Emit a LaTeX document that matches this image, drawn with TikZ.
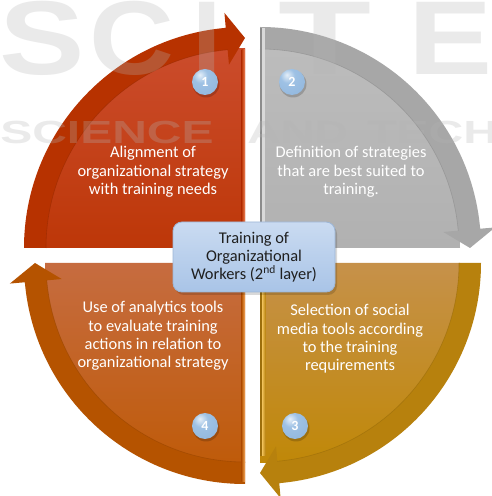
\documentclass[tikz,border=0pt]{standalone}
\usepackage{fontspec}
\setmainfont{Carlito}
\newfontfamily\wmfont{Liberation Sans}
\usetikzlibrary{calc}
\definecolor{qonetop}{HTML}{CB4C2C}
\definecolor{qonebot}{HTML}{BD3708}
\definecolor{qoneband}{HTML}{B73200}
\definecolor{qonehi}{HTML}{EE8258}
\definecolor{qtwotop}{HTML}{BCBCBC}
\definecolor{qtwobot}{HTML}{B1B1B1}
\definecolor{qtwoband}{HTML}{A7A7A7}
\definecolor{qtwohi}{HTML}{D9D9D9}
\definecolor{qtwodark}{HTML}{8C8C8C}
\definecolor{qthrtop}{HTML}{C6914A}
\definecolor{qthrbot}{HTML}{C08808}
\definecolor{qthrband}{HTML}{B7810D}
\definecolor{qthrhi}{HTML}{F2C35C}
\definecolor{qfoutop}{HTML}{C66C40}
\definecolor{qfoubot}{HTML}{BF5B0A}
\definecolor{qfouband}{HTML}{B55300}
\definecolor{qfouhi}{HTML}{F6A95E}
\definecolor{ballhi}{HTML}{E4EEF8}
\definecolor{ballmid}{HTML}{9EC1E4}
\definecolor{balledge}{HTML}{6391C6}
\definecolor{boxtop}{HTML}{CADBF1}
\definecolor{boxbot}{HTML}{A9C4E7}
\definecolor{boxline}{HTML}{9DB6D6}
\definecolor{wmgray}{HTML}{B4B4B4}
\pgfdeclareradialshading{glossball}{\pgfpoint{-10bp}{14bp}}{color(0bp)=(ballhi); color(14bp)=(ballmid); color(40bp)=(ballmid!80!balledge); color(62bp)=(balledge); color(100bp)=(balledge)}
\begin{document}
\begin{tikzpicture}[x=1pt,y=1pt,
  qtext/.style={text=white, align=center, font=\fontsize{16.4}{18.3}\selectfont},
  numball/.style={circle, minimum size=26pt, inner sep=0pt, shading=glossball, text=white, font=\bfseries\fontsize{14}{14}\selectfont},
  wm/.style={text=wmgray, opacity=0.28, font=\wmfont\bfseries, inner sep=0pt}]
\useasboundingbox (0,0) rectangle (492,496);
\fill[white] (0,0) rectangle (492,496);
\coordinate (c1) at (245,248);
\coordinate (c2) at (260,248);
\coordinate (c3) at (260,233);
\coordinate (c4) at (245,233);
% Quadrant 1
\shade[top color=qonetop, bottom color=qonebot] (c1) -- ($(c1)+(180:200)$) arc[start angle=180,end angle=90,radius=200] -- cycle;
\fill[qoneband] ($(c1)+(180:199)$) -- ($(c1)+(180:221)$) arc[start angle=180,end angle=95,radius=221] -- ($(c1)+(95:236)$) -- ($(c1)+(90:210)$) -- ($(c1)+(95:184)$) -- ($(c1)+(95:199)$) arc[start angle=95,end angle=180,radius=199] -- cycle;
\draw[qoneband!80!black, opacity=0.5, line width=0.6pt] ($(c1)+(180:199)$) arc[start angle=180,end angle=95,radius=199];
\shade[left color=qoneband, right color=qonehi] (241.5,248) rectangle (245,446);
% Quadrant 2
\shade[top color=qtwotop, bottom color=qtwobot] (c2) -- ($(c2)+(90:200)$) arc[start angle=90,end angle=0,radius=200] -- cycle;
\fill[qtwoband] ($(c2)+(90:199)$) -- ($(c2)+(90:221)$) arc[start angle=90,end angle=5,radius=221] -- ($(c2)+(5:236)$) -- ($(c2)+(0:210)$) -- ($(c2)+(5:184)$) -- ($(c2)+(5:199)$) arc[start angle=5,end angle=90,radius=199] -- cycle;
\draw[qtwodark, opacity=0.6, line width=0.6pt] ($(c2)+(90:199)$) arc[start angle=90,end angle=5,radius=199];
\fill[qtwodark] (260,248) rectangle (262,468);
\fill[qtwohi] (262,248) rectangle (264.5,468);
% Quadrant 3
\shade[top color=qthrtop, bottom color=qthrbot] (c3) -- ($(c3)+(0:200)$) arc[start angle=360,end angle=270,radius=200] -- cycle;
\fill[qthrband] ($(c3)+(0:199)$) -- ($(c3)+(0:221)$) arc[start angle=360,end angle=275,radius=221] -- ($(c3)+(275:236)$) -- ($(c3)+(270:210)$) -- ($(c3)+(275:184)$) -- ($(c3)+(275:199)$) arc[start angle=275,end angle=360,radius=199] -- cycle;
\draw[qthrband!80!black, opacity=0.5, line width=0.6pt] ($(c3)+(0:199)$) arc[start angle=360,end angle=275,radius=199];
\fill[qthrband!85!black] (260,233) rectangle (262,40);
\shade[left color=qthrhi, right color=qthrband] (262,233) rectangle (265.5,40);
% Quadrant 4
\shade[top color=qfoutop, bottom color=qfoubot] (c4) -- ($(c4)+(270:200)$) arc[start angle=270,end angle=180,radius=200] -- cycle;
\fill[qfouband] ($(c4)+(270:199)$) -- ($(c4)+(270:221)$) arc[start angle=270,end angle=185,radius=221] -- ($(c4)+(185:236)$) -- ($(c4)+(180:210)$) -- ($(c4)+(185:184)$) -- ($(c4)+(185:199)$) arc[start angle=185,end angle=270,radius=199] -- cycle;
\draw[qfouband!80!black, opacity=0.5, line width=0.6pt] ($(c4)+(270:199)$) arc[start angle=270,end angle=185,radius=199];
\shade[left color=qfouband, right color=qfouhi] (241.5,233) rectangle (245,14);
% watermark
\node[wm, font=\wmfont\bfseries\fontsize{105}{105}\selectfont, xscale=1.22] (wmS) at (42,458) {S};
\node[wm, font=\wmfont\bfseries\fontsize{105}{105}\selectfont, xscale=1.12] (wmC) at (132,458) {C};
\node[wm, font=\wmfont\bfseries\fontsize{105}{105}\selectfont] (wmI) at (207,458) {I};
\node[wm, font=\wmfont\bfseries\fontsize{105}{105}\selectfont, xscale=1.45] (wmT) at (325,458) {T};
\node[wm, font=\wmfont\bfseries\fontsize{105}{105}\selectfont, xscale=1.2] (wmE) at (451,458) {E};
\node[wm, font=\wmfont\bfseries\fontsize{32}{32}\selectfont, xscale=1.5, anchor=west] (wm2) at (0,364) {SCIENCE};
\node[wm, font=\wmfont\bfseries\fontsize{32}{32}\selectfont, xscale=1.45, anchor=west] (wm3) at (247,364) {AND};
\node[wm, font=\wmfont\bfseries\fontsize{32}{32}\selectfont, xscale=1.5, anchor=west] (wm4) at (367,364) {TECH};
% texts
\node[qtext] (t1) at (153,324) {Alignment of\\organizational strategy\\with training needs};
\node[qtext] (t2) at (351,324) {Definition of strategies\\that are best suited to\\training.};
\node[qtext] (t3) at (350,157) {Selection of social\\media tools according\\to the training\\requirements};
\node[qtext] (t4) at (153,160) {Use of analytics tools\\to evaluate training\\actions in relation to\\organizational strategy};
% numbered balls
\foreach \p/\n/\lab in {{(205,414)}/n1/1,{(292,414)}/n2/2,{(295,70)}/n3/3,{(205,70)}/n4/4}{
  \fill[black, opacity=0.18] \p ++(1,-2) circle (13.5);
  \node[numball] (\n) at \p {\lab};
}
% center box
\fill[black, opacity=0.15, rounded corners=9pt] (175,201) rectangle (337,271);
\node[draw=boxline, line width=0.8pt, rounded corners=9pt, top color=boxtop, bottom color=boxbot, minimum width=162pt, minimum height=70pt, align=center, text=black!88, font=\fontsize{16.4}{18.3}\selectfont] (center) at (254,239) {Training of\\Organizational\\Workers (2\textsuperscript{nd} layer)};
\end{tikzpicture}
\end{document}
